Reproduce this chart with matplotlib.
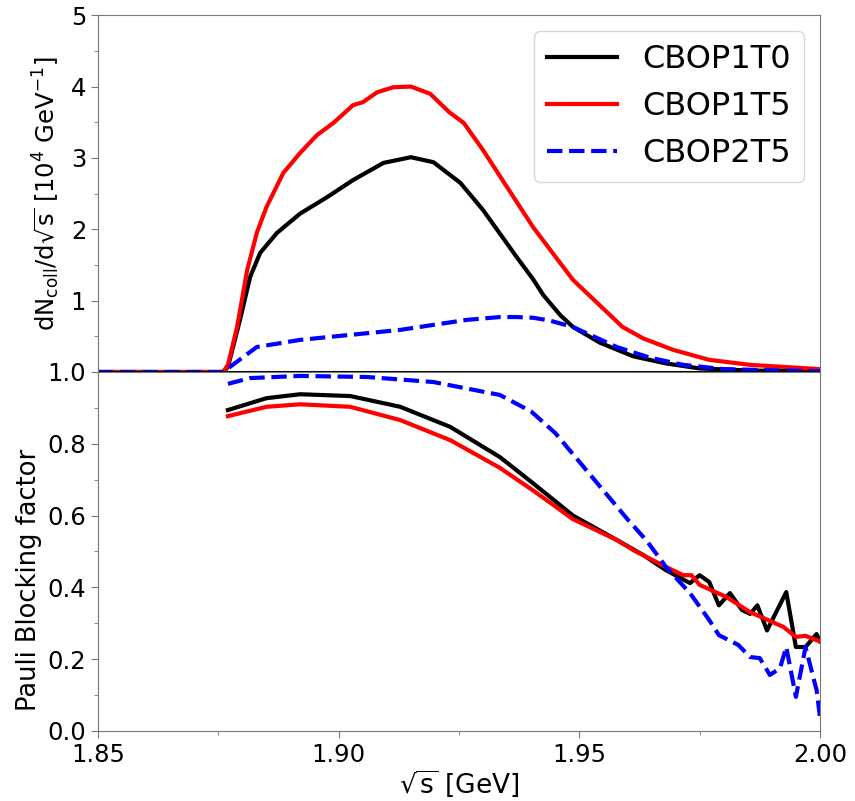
import matplotlib.pyplot as plt
from matplotlib.ticker import MultipleLocator

# top panel: collision spectra
x_top_t0 = [1.850, 1.876, 1.877, 1.8795, 1.8816, 1.8837, 1.8872, 1.892, 1.8976, 1.903, 1.9093,
            1.915, 1.9197, 1.9253, 1.930, 1.937, 1.9404, 1.9425, 1.946, 1.9487, 1.9543, 1.9612,
            1.968, 1.975, 1.9855, 2.0]
y_top_t0 = [0, 0, 0.07, 0.73, 1.33, 1.67, 1.95, 2.22, 2.45, 2.69, 2.93,
            3.01, 2.94, 2.65, 2.27, 1.61, 1.30, 1.08, 0.80, 0.63, 0.41, 0.22,
            0.12, 0.05, 0.02, 0.01]

x_top_t5 = [1.850, 1.876, 1.877, 1.8789, 1.881, 1.883, 1.885, 1.8885, 1.892, 1.8955, 1.8989,
            1.903, 1.905, 1.908, 1.9113, 1.915, 1.919, 1.923, 1.926, 1.930, 1.935, 1.9404,
            1.946, 1.9487, 1.959, 1.9633, 1.9695, 1.977, 1.9855, 2.0]
y_top_t5 = [0, 0, 0.1, 0.63, 1.43, 1.95, 2.31, 2.79, 3.07, 3.32, 3.49,
            3.74, 3.78, 3.92, 3.99, 4.0, 3.9, 3.64, 3.49, 3.11, 2.59, 2.03,
            1.53, 1.29, 0.63, 0.47, 0.31, 0.17, 0.10, 0.04]

x_top_2t5 = [1.850, 1.876, 1.877, 1.883, 1.892, 1.9024, 1.9128, 1.9197, 1.9266, 1.9335, 1.937,
             1.9404, 1.9439, 1.9487, 1.9578, 1.9647, 1.9716, 1.98, 2.0]
y_top_2t5 = [0, 0, 0.05, 0.35, 0.45, 0.52, 0.59, 0.66, 0.73, 0.77, 0.77,
             0.76, 0.72, 0.63, 0.35, 0.2, 0.1, 0.04, 0.01]

# bottom panel: Pauli blocking factor
x_pb_t0 = [1.877, 1.885, 1.892, 1.9024, 1.9128, 1.9232, 1.9335, 1.9404, 1.9487, 1.9578, 1.9633,
           1.968, 1.973, 1.975, 1.977, 1.979, 1.9813, 1.9838, 1.9855, 1.987, 1.989, 1.993,
           1.995, 1.997, 1.9993, 2.0]
y_pb_t0 = [0.894, 0.927, 0.938, 0.933, 0.903, 0.847, 0.763, 0.69, 0.60, 0.532, 0.49,
           0.448, 0.412, 0.434, 0.415, 0.35, 0.384, 0.337, 0.326, 0.35, 0.28, 0.387,
           0.234, 0.234, 0.27, 0.25]

x_pb_t5 = [1.877, 1.885, 1.892, 1.9024, 1.9128, 1.9232, 1.9335, 1.9404, 1.9487, 1.9578, 1.9612,
           1.968, 1.9716, 1.9733, 1.975, 1.9806, 1.9855, 1.9924, 1.995, 1.997, 1.9993, 2.0]
y_pb_t5 = [0.877, 0.903, 0.91, 0.903, 0.866, 0.81, 0.733, 0.67, 0.59, 0.532, 0.504,
           0.457, 0.434, 0.434, 0.407, 0.373, 0.331, 0.29, 0.262, 0.265, 0.253, 0.25]

x_pb_2t5 = [1.877, 1.8816, 1.892, 1.906, 1.9197, 1.9335, 1.94, 1.945, 1.95, 1.955, 1.96,
            1.964, 1.968, 1.973, 1.977, 1.979, 1.983, 1.9855, 1.9875, 1.9896, 1.9917, 1.993,
            1.995, 1.997, 1.9993, 2.0]
y_pb_2t5 = [0.967, 0.983, 0.989, 0.986, 0.972, 0.936, 0.89, 0.83, 0.75, 0.67, 0.59,
            0.53, 0.457, 0.384, 0.309, 0.267, 0.24, 0.206, 0.203, 0.156, 0.175, 0.234,
            0.095, 0.234, 0.114, 0.04]

fig = plt.figure(figsize=(8.55, 8.01), dpi=100)
ax1 = fig.add_axes([0.1146, 0.5356, 0.8444, 0.4454])
ax2 = fig.add_axes([0.1146, 0.0874, 0.8444, 0.4482], sharex=ax1)

lw = 3
ax1.plot(x_top_t0, y_top_t0, color='black', lw=lw, label='CBOP1T0')
ax1.plot(x_top_t5, y_top_t5, color='red', lw=lw, label='CBOP1T5')
ax1.plot(x_top_2t5, y_top_2t5, color='blue', lw=lw, ls='--', label='CBOP2T5')
ax1.axhline(0, color='black', lw=1.5)

ax2.plot(x_pb_t0, y_pb_t0, color='black', lw=lw)
ax2.plot(x_pb_t5, y_pb_t5, color='red', lw=lw)
ax2.plot(x_pb_2t5, y_pb_2t5, color='blue', lw=lw, ls='--')

ax1.set_xlim(1.85, 2.0)
ax1.set_ylim(0, 5)
ax1.set_yticks([1, 2, 3, 4, 5])
ax1.yaxis.set_minor_locator(MultipleLocator(0.5))
ax1.tick_params(labelbottom=False)
ax2.set_ylim(0, 1.0)
ax2.set_yticks([0.0, 0.2, 0.4, 0.6, 0.8, 1.0])
ax2.yaxis.set_minor_locator(MultipleLocator(0.1))
ax2.set_xticks([1.85, 1.90, 1.95, 2.00])
ax2.set_xticklabels(['1.85', '1.90', '1.95', '2.00'])
ax2.xaxis.set_minor_locator(MultipleLocator(0.025))

for ax in (ax1, ax2):
    for s in ax.spines.values():
        s.set_color('#777777')
    ax.tick_params(which='both', colors='#777777', labelcolor='black', labelsize=17.5)
    ax.tick_params(which='major', length=5)
    ax.tick_params(which='minor', length=3)

ax1.set_ylabel(r'dN$_{\rm coll}$/d$\sqrt{\rm s}$ [10$^4$ GeV$^{-1}$]', fontsize=17.5, labelpad=6)
ax2.set_ylabel('Pauli Blocking factor', fontsize=18.5)
ax2.yaxis.set_label_coords(-0.078, 0.42)
ax2.set_xlabel(r'$\sqrt{\rm s}$ [GeV]', fontsize=19, labelpad=1)

ax1.legend(loc='upper right', fontsize=23, handlelength=2.2)

fig.savefig('out.png', dpi=100)
